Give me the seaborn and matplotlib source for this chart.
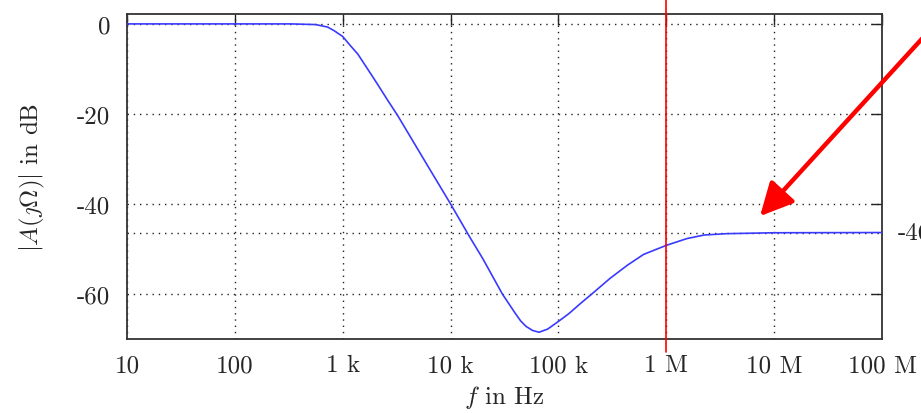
import numpy as np
import pandas as pd
import matplotlib
matplotlib.use("Agg")
import matplotlib.pyplot as plt
import seaborn as sns
from matplotlib.ticker import FixedLocator, FixedFormatter, NullLocator

# ---- data ----
freq_hz = [10, 100, 331, 562, 724, 832, 1000, 1175, 1380, 1700, 2090, 2570,
           3240, 5620, 10000, 15100, 19950, 30200, 39800, 44700, 50100,
           57500, 66100, 79400, 100000, 125900, 158500, 204000, 302000,
           436500, 616600, 1000000, 1549000, 2239000, 3631000, 10000000,
           100000000]
gain_db = [0.0, 0.0, 0.0, -0.15, -0.7, -1.5, -2.8, -4.8, -6.7, -10.0, -13.3,
           -16.7, -20.4, -30.0, -40.0, -47.4, -52.2, -60.0, -64.3, -66.0,
           -67.2, -68.1, -68.5, -67.8, -66.1, -64.3, -62.2, -60.0, -56.5,
           -53.6, -51.2, -49.2, -47.7, -46.9, -46.6, -46.4, -46.35]
plateau_db = -46.4
marker_freq = 1e6
x_ticks = [10, 100, 1e3, 1e4, 1e5, 1e6, 1e7, 1e8]
x_ticklabels = ["10", "100", "1 k", "10 k", "100 k", "1 M", "10 M", "100 M"]
y_ticks = [0, -20, -40, -60]
y_ticklabels = ["0", "-20", "-40", "-60"]
arrow_tip = (7.4e6, -42.7)

sns.set_theme(style="white")
plt.rcParams["font.family"] = ["cmr10", "DejaVu Serif"]
plt.rcParams["mathtext.fontset"] = "cm"
plt.rcParams["axes.unicode_minus"] = False
plt.rcParams["axes.formatter.use_mathtext"] = True

W, H = 921, 414
fig = plt.figure(figsize=(W / 100, H / 100), dpi=100)
L, R, T, B = 127, 882, 15, 340
ax = fig.add_axes([L / W, 1 - B / H, (R - L) / W, (B - T) / H])

df = pd.DataFrame({"f": freq_hz, "A": gain_db})
sns.lineplot(data=df, x="f", y="A", ax=ax, color="#3a3aff", lw=1.2, zorder=3)

ax.set_xscale("log")
ax.set_xlim(10, 1e8)
ax.set_ylim(-70, 2.2)

ax.xaxis.set_major_locator(FixedLocator(x_ticks))
ax.xaxis.set_major_formatter(FixedFormatter(x_ticklabels))
ax.xaxis.set_minor_locator(NullLocator())
ax.yaxis.set_major_locator(FixedLocator(y_ticks))
ax.yaxis.set_major_formatter(FixedFormatter(y_ticklabels))

ax.tick_params(axis="both", which="major", direction="in", length=8, width=1.0,
               color="#222222", top=True, right=True, labelsize=18)
ax.tick_params(axis="x", pad=11)
ax.tick_params(axis="y", pad=12)

ax.grid(True, which="major", linestyle=(0, (1, 3.5)), color="#222222", lw=1.0)
ax.axhline(plateau_db, linestyle=(0, (1, 3.5)), color="#222222", lw=1.0, zorder=2)

for s in ax.spines.values():
    s.set_color("#333333")
    s.set_linewidth(1.3)

ax.set_xlabel(r"$f$ in Hz", fontsize=18, labelpad=5)
ax.set_ylabel(r"$|A(\jmath\mathit{\Omega})|$ in dB", fontsize=18, labelpad=22)

# red vertical marker, extending beyond the axes
ax.axvline(marker_freq, ymin=-13 / (B - T), ymax=B / (B - T), color="red",
           lw=1.2, clip_on=False, zorder=4)

# plateau value label (cut by the figure edge)
ax.text(1.021, (plateau_db + 70) / 72.2, f"{plateau_db:g}", transform=ax.transAxes,
        fontsize=18, va="center", ha="left", clip_on=False)

# red arrow coming from outside the top right
ax.annotate("", xy=arrow_tip, xycoords="data",
            xytext=(940, H - 20), textcoords="figure pixels",
            arrowprops=dict(arrowstyle="-|>,head_length=1.0,head_width=0.5",
                            color="red", lw=3.2, mutation_scale=20, shrinkA=0, shrinkB=0),
            annotation_clip=False, zorder=5)

fig.savefig("out.png", dpi=100)
